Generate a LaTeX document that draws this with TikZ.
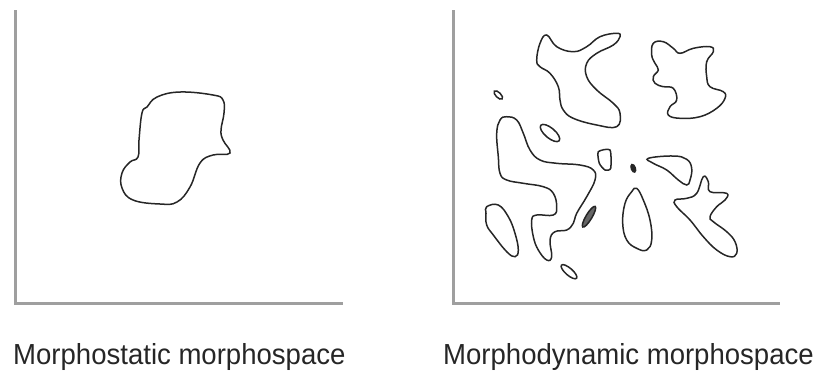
\documentclass[tikz,border=0pt]{standalone}
\usepackage{fontspec}
\setmainfont{Liberation Sans}
\usepackage{tikz}

\begin{document}
\begin{tikzpicture}[x=1pt, y=-1pt,
    axis/.style={line width=3pt, gray!75},
    blob/.style={line width=1.5pt, black!85, smooth cycle, tension=0.7},
    speck/.style={line width=1.5pt, black!85},
    caption/.style={anchor=base west, inner sep=0pt, font=\fontsize{29}{31}\selectfont, text=black!85}]
    \useasboundingbox (0,0) rectangle (826,376);

    % Axes of the two panels
    \draw[axis] (15,10) -- (15,303) -- (343,303);
    \draw[axis] (453,10) -- (453,303) -- (780,303);

    % Single region (morphostatic)
    \draw[blob] plot coordinates {(147,107) (157,97) (180,92) (213,95) (223,100) (224,113)
        (221,130) (223,140) (230,153) (213,155) (200,163) (190,187) (177,202) (160,204)
        (133,200) (122,188) (122,173) (130,162) (138,157) (139,140) (142,113)};

    % Many regions (morphodynamic)
    \draw[blob] plot coordinates {(546.7,35) (556.7,46.7) (573.3,51.7) (586.7,46.7) (600,36.7)
        (616.7,33.3) (620,36.7) (613.3,45) (596.7,53.3) (586.7,63.3) (586.7,76.7) (596.7,90)
        (613.3,103.3) (620,113.3) (616.7,126.7) (596.7,125) (573.3,118.3) (563.3,110)
        (560,100) (558.3,86.7) (550,73.3) (540,66.7) (536.7,60) (540,43.3)};
    \draw[blob] plot coordinates {(653.3,43.3) (663.3,41.7) (673.3,48.3) (680,53.3) (693.3,48.3)
        (710,46.7) (713.3,51.7) (706.7,61.7) (706.7,76.7) (710,86.7) (723.3,91.7) (725,98.3)
        (716.7,108.3) (700,116.7) (680,118.3) (668.3,115) (670,106.7) (676.7,100) (673.3,88.3)
        (663.3,86.7) (655,83.3) (653.3,76.7) (658.3,70) (655,63.3) (651.7,55)};
    \draw[blob] plot coordinates {(506.7,116.7) (516.7,120) (523.3,133.3) (530,150) (540,160)
        (556.7,163.3) (580,165) (593.3,170) (595,180) (586.7,196.7) (576.7,213.3) (573.3,223.3)
        (566.7,230) (555,231.7) (550,240) (551.7,256.7) (546.7,260) (538.3,250) (533.3,236.7)
        (531.7,220) (536.7,215) (553.3,215) (556.7,206.7) (553.3,193.3) (543.3,186.7)
        (523.3,183.3) (506.7,180) (500,173.3) (498.3,156.7) (496.7,133.3) (500,120)};
    \draw[blob, tension=0.4] plot coordinates {(598.3,151.7) (610,150) (610.7,168.3) (605,170) (599.3,163.3)};
    \draw[blob] plot coordinates {(648.3,158.3) (673.3,156) (686.7,159.3) (691.7,168.3) (690,180)
        (686.7,185) (678.3,180) (666.7,170) (653.3,163.3)};
    \draw[blob] plot coordinates {(486.7,206.7) (498.3,205) (508.3,216.7) (515,233.3) (518.3,250)
        (515,256.7) (506.7,251.7) (493.3,235) (486.7,225) (486,213.3)};
    \draw[blob] plot coordinates {(636.7,188.3) (643.3,200) (650,220) (651.7,240) (646.7,250)
        (636.7,248.3) (626.7,240) (622.7,223.3) (625,203.3) (631.7,191.7)};
    \draw[blob] plot coordinates {(675,200) (686.7,198.3) (696.7,193.3) (703.3,176.7) (708.3,181.7)
        (710,191.7) (726.7,193.3) (725,200) (716.7,206.7) (710,216.7) (713.3,221.7) (726.7,231.7)
        (735,241.7) (736.7,253.3) (730,256.7) (716.7,250) (703.3,236.7) (690,220) (676.7,206.7)};

    % Small specks
    \draw[speck, rotate around={-45:(498.3,95)}] (498.3,95) ellipse (5.5 and 2.5);
    \draw[speck, rotate around={-40:(550,133)}] (550,133) ellipse (12 and 5);
    \draw[speck, fill=black!85, rotate around={-70:(633.3,168.3)}] (633.3,168.3) ellipse (4 and 2);
    \draw[speck, fill=black!60, rotate around={59:(589,216.7)}] (589,216.7) ellipse (12 and 3);
    \draw[speck, rotate around={-41:(569,271.7)}] (569,271.7) ellipse (10 and 3.5);

    % Captions
    \node[caption] (static) at (13,364) {\scalebox{0.95}[1]{Morphostatic morphospace}};
    \node[caption] (dynamic) at (443,364) {\scalebox{0.95}[1]{Morphodynamic morphospace}};
\end{tikzpicture}
\end{document}
